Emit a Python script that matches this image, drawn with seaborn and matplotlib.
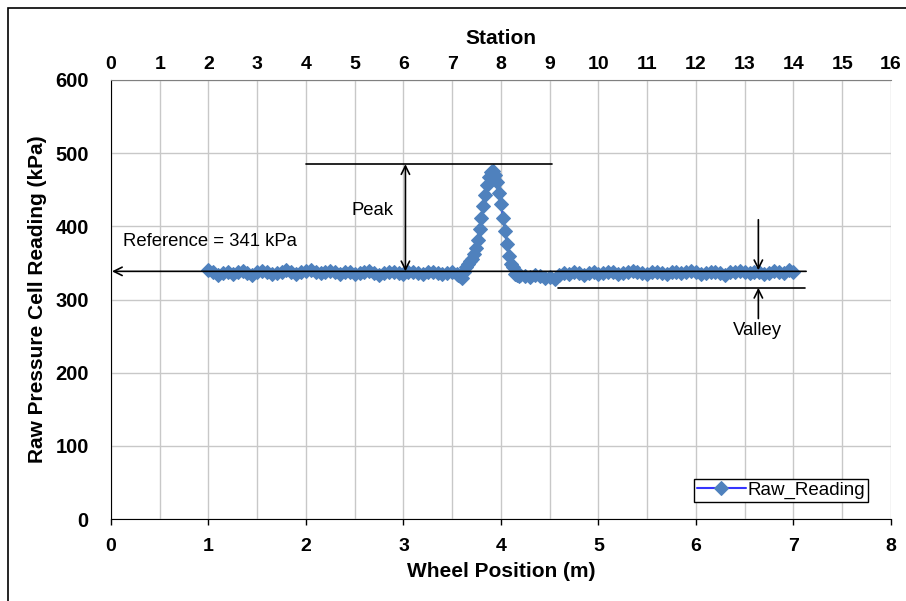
import matplotlib.pyplot as plt
import matplotlib.patches as mpatches
import numpy as np
import pandas as pd
import seaborn as sns

# wheel position (m) and raw reading (kPa)
pos_base = [1.00, 1.05, 1.10, 1.15, 1.20, 1.25, 1.30, 1.35, 1.40, 1.45,
            1.50, 1.55, 1.60, 1.65, 1.70, 1.75, 1.80, 1.85, 1.90, 1.95,
            2.00, 2.05, 2.10, 2.15, 2.20, 2.25, 2.30, 2.35, 2.40, 2.45,
            2.50, 2.55, 2.60, 2.65, 2.70, 2.75, 2.80, 2.85, 2.90, 2.95,
            3.00, 3.05, 3.10, 3.15, 3.20, 3.25, 3.30, 3.35, 3.40, 3.45,
            3.50, 3.55]
read_base = [340, 337, 334, 336, 338, 335, 337, 339, 336, 334,
             337, 339, 338, 335, 336, 338, 340, 337, 335, 337,
             339, 341, 338, 336, 337, 339, 337, 335, 338, 337,
             335, 336, 338, 339, 336, 334, 336, 337, 338, 336,
             335, 337, 338, 336, 335, 337, 338, 336, 335, 336,
             337, 335]

pos_peak = [3.56, 3.58, 3.60, 3.62, 3.64, 3.66, 3.68, 3.70, 3.72, 3.74,
            3.76, 3.78, 3.80, 3.82, 3.84, 3.86, 3.88, 3.90, 3.92, 3.94,
            3.96, 3.98, 4.00, 4.02, 4.04, 4.06, 4.08, 4.10, 4.12, 4.14,
            4.16, 4.18, 4.20]
read_peak = [334, 332, 330, 338, 345, 349, 352, 356, 362, 370,
             382, 396, 412, 428, 443, 457, 468, 474, 476, 470,
             460, 446, 430, 412, 394, 376, 360, 348, 344, 335,
             333, 332, 333]

pos_tail = [4.25, 4.30, 4.35, 4.40, 4.45, 4.50, 4.55, 4.60, 4.65, 4.70,
            4.75, 4.80, 4.85, 4.90, 4.95, 5.00, 5.05, 5.10, 5.15, 5.20,
            5.25, 5.30, 5.35, 5.40, 5.45, 5.50, 5.55, 5.60, 5.65, 5.70,
            5.75, 5.80, 5.85, 5.90, 5.95, 6.00, 6.05, 6.10, 6.15, 6.20,
            6.25, 6.30, 6.35, 6.40, 6.45, 6.50, 6.55, 6.60, 6.65, 6.70,
            6.75, 6.80, 6.85, 6.90, 6.95, 7.00]
read_tail = [332, 331, 333, 332, 330, 331, 328, 334, 336, 335,
             337, 336, 334, 336, 337, 335, 336, 338, 337, 335,
             336, 338, 339, 337, 336, 335, 337, 338, 336, 335,
             337, 338, 336, 337, 339, 337, 335, 336, 338, 337,
             336, 334, 337, 338, 339, 337, 336, 338, 337, 335,
             336, 339, 338, 336, 340, 338]

ref_value = 341
station_ticks = list(range(0, 17))

df = pd.DataFrame({
    "pos": pos_base + pos_peak + pos_tail,
    "reading": read_base + read_peak + read_tail,
})

sns.set_style("white")
plt.rcParams["font.family"] = ["Liberation Sans", "DejaVu Sans"]
plt.rcParams["text.color"] = "black"
plt.rcParams["axes.labelcolor"] = "black"
plt.rcParams["xtick.color"] = "black"
plt.rcParams["ytick.color"] = "black"

fig = plt.figure(figsize=(9.06, 6.01), dpi=100)
ax = fig.add_axes([0.1225, 0.1364, 0.8609, 0.7305])

sns.lineplot(data=df, x="pos", y="reading", ax=ax, color="#3535FF", lw=1.5,
             marker="D", markersize=6.8, markerfacecolor="#4F81BD",
             markeredgecolor="#4F81BD", label="Raw_Reading", zorder=3)

ax.set_xlim(0, 8)
ax.set_ylim(0, 600)
ax.set_xticks(range(0, 9))
ax.set_xticks(np.arange(0.5, 8, 1.0), minor=True)
ax.set_yticks(range(0, 601, 100))
ax.grid(True, which="both", color="#C8C8C8", lw=1)
ax.set_axisbelow(True)
ax.tick_params(axis="x", which="major", direction="out", length=4, width=1,
               labelsize=14, pad=10)
ax.tick_params(axis="x", which="minor", length=0)
ax.tick_params(axis="y", direction="out", length=6, width=1,
               labelsize=14.5, pad=10)
for lab in ax.get_xticklabels() + ax.get_yticklabels():
    lab.set_fontweight("bold")
ax.spines["left"].set_color("black")
ax.spines["bottom"].set_color("black")
ax.spines["right"].set_visible(False)
ax.spines["top"].set_color("#808080")
ax.set_xlabel("Wheel Position (m)", fontsize=15, fontweight="bold", labelpad=5)
ax.set_ylabel("Raw Pressure Cell Reading (kPa)", fontsize=15, fontweight="bold", labelpad=6)

top = ax.twiny()
top.set_xlim(0, 16)
top.set_xticks(station_ticks)
top.tick_params(axis="x", length=0, labelsize=14, pad=5)
for lab in top.get_xticklabels():
    lab.set_fontweight("bold")
for s in top.spines.values():
    s.set_visible(False)
top.set_xlabel("Station", fontsize=15, fontweight="bold", labelpad=9)

# annotations
y_ref = 338.5
ax.annotate("", xy=(0.01, y_ref), xytext=(7.13, y_ref),
            arrowprops=dict(arrowstyle="->", color="black", lw=1.2,
                            mutation_scale=15, shrinkA=0, shrinkB=0), zorder=5)
ax.text(0.12, 379, "Reference = %d kPa" % ref_value, fontsize=13.3, va="center", ha="left")

ax.plot([2.0, 4.52], [485, 485], color="black", lw=1.2, zorder=5)
ax.annotate("", xy=(3.02, 485), xytext=(3.02, y_ref),
            arrowprops=dict(arrowstyle="<->", color="black", lw=1.2,
                            mutation_scale=15, shrinkA=0, shrinkB=0), zorder=5)
ax.text(2.68, 422, "Peak", fontsize=13.3, va="center", ha="center")

ax.plot([4.58, 7.12], [316, 316], color="black", lw=1.2, zorder=5)
ax.annotate("", xy=(6.64, 340), xytext=(6.64, 409),
            arrowprops=dict(arrowstyle="->", color="black", lw=1.2,
                            mutation_scale=15, shrinkA=0, shrinkB=0), zorder=5)
ax.annotate("", xy=(6.64, 316), xytext=(6.64, 274),
            arrowprops=dict(arrowstyle="->", color="black", lw=1.2,
                            mutation_scale=15, shrinkA=0, shrinkB=0), zorder=5)
ax.text(6.63, 258, "Valley", fontsize=13.3, va="center", ha="center")

leg = ax.legend(loc="lower right", bbox_to_anchor=(0.9705, 0.0387), fontsize=13.5,
                frameon=True, fancybox=False, edgecolor="black", framealpha=1,
                borderpad=0.15, handlelength=2.6, handletextpad=0.1, borderaxespad=0)
leg.get_frame().set_linewidth(1)

fig.patches.append(mpatches.Rectangle((8 / 906, -0.1), 1.2, 1.1 - 8 / 601,
                                      transform=fig.transFigure, fill=False,
                                      edgecolor="black", lw=1.2))

fig.savefig("out.png", dpi=100)
